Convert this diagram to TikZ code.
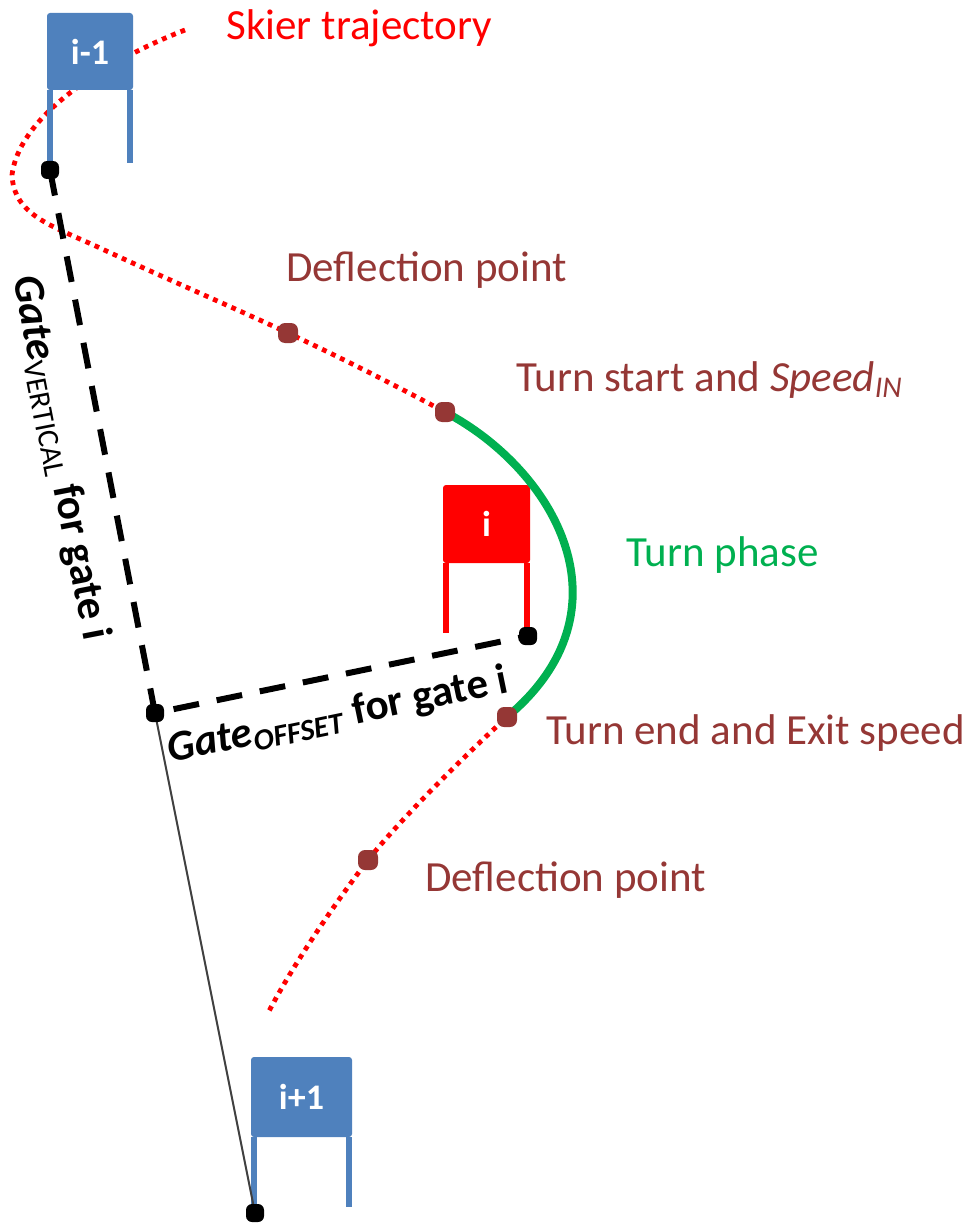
\documentclass[tikz,border=0pt]{standalone}
\usepackage{fontspec}
\setmainfont{Carlito}
\definecolor{gateblue}{HTML}{4F81BD}
\definecolor{gatered}{HTML}{FF0000}
\definecolor{dotbrown}{HTML}{953735}
\definecolor{turngreen}{HTML}{00B050}
\begin{document}
\begin{tikzpicture}[x=0.5pt,y=-0.5pt,
  lbl/.style={font=\fontsize{21.5}{26}\selectfont, inner sep=0, anchor=west},
  gatelbl/.style={font=\fontsize{21.5}{26}\selectfont\bfseries, inner sep=0},
  flag/.style={rectangle, rounded corners=1.5pt, inner sep=0, text=white,
    font=\fontsize{18}{22}\selectfont\bfseries},
  pole/.style={line width=3pt},
  bdot/.style={rectangle, rounded corners=3pt, fill=black, minimum size=9pt, inner sep=0},
  pdot/.style={rectangle, rounded corners=3.5pt, fill=dotbrown, minimum size=10pt, inner sep=0},
  traj/.style={draw=red, line width=2.4pt, dash pattern=on 2.4pt off 2.6pt},
  turn/.style={draw=turngreen, line width=4pt},
  gatedash/.style={line width=3pt, dash pattern=on 13pt off 9pt},
  guide/.style={draw=black!75, line width=1pt}]
\useasboundingbox (0,0) rectangle (973,1225);

% key points
\coordinate (pv) at (50,170);
\coordinate (corner) at (155,713);
\coordinate (pi) at (528,636);
\coordinate (pn) at (255,1213);
\coordinate (start) at (185,30);
\coordinate (d1) at (288,333);
\coordinate (ts) at (445,412);
\coordinate (te) at (507,717);
\coordinate (d2) at (368,860);
\coordinate (finish) at (267,1015);

% skier trajectory
\draw[traj] (start) .. controls (120,55) and (20,110) .. (12,175)
  .. controls (14,215) and (50,225) .. (100,248)
  .. controls (160,276) and (230,306) .. (d1)
  .. controls (350,362) and (400,388) .. (ts)
  .. controls (555,470) and (635,610) .. (te)
  .. controls (460,760) and (400,820) .. (d2)
  .. controls (330,910) and (290,970) .. (finish);

% gate i-1
\node[flag, fill=gateblue, minimum width=43pt, minimum height=38.5pt] (g1) at (90,51.5) {i-1};
\draw[pole, gateblue] ([xshift=1.5pt]g1.south west) -- ++(0,75);
\draw[pole, gateblue] ([xshift=-1.5pt]g1.south east) -- ++(0,73);

% gate i
\node[flag, fill=gatered, minimum width=43.5pt, minimum height=39pt] (gi) at (486.5,524) {i};
\draw[pole, gatered] ([xshift=1.5pt]gi.south west) -- ++(0,70);
\draw[pole, gatered] ([xshift=-1.5pt]gi.south east) -- ++(0,67);

% gate i+1
\node[flag, fill=gateblue, minimum width=50.5pt, minimum height=40pt] (g2) at (301.5,1097) {i+1};
\draw[pole, gateblue] ([xshift=1.5pt]g2.south west) -- ++(0,73);
\draw[pole, gateblue] ([xshift=-1.5pt]g2.south east) -- ++(0,70);

% gate distances
\draw[gatedash] (pv) -- (corner) -- (pi);
\draw[guide] (corner) -- (pn);

% turn phase
\draw[turn] (ts) .. controls (555,470) and (635,610) .. (te);

% markers
\node[bdot] (mv) at (pv) {};
\node[bdot] (mc) at (corner) {};
\node[bdot] (mi) at (pi) {};
\node[bdot] (mn) at (pn) {};
\node[pdot] (md1) at (d1) {};
\node[pdot] (mts) at (ts) {};
\node[pdot] (mte) at (te) {};
\node[pdot] (md2) at (d2) {};

% labels
\node[lbl, text=red] (lskier) at (226,28) {Skier trajectory};
\node[lbl, text=dotbrown] (ldef1) at (286,270) {Deflection point};
\node[lbl, text=dotbrown] (lstart) at (516,380) {Turn start and \textit{Speed}\textsubscript{\textit{IN}}};
\node[lbl, text=turngreen] (lphase) at (626,555) {Turn phase};
\node[lbl, text=dotbrown] (lend) at (546,733) {Turn end and Exit speed};
\node[lbl, text=dotbrown] (ldef2) at (425,880) {Deflection point};

\node[gatelbl, rotate=-79] (lvert) at (60,458)
  {\textit{Gate}\textsubscript{\mdseries VERTICAL} for gate i};
\node[gatelbl, rotate=11.7] (loff) at (338,716)
  {\textit{Gate}\textsubscript{\textit{OFFSET}} for gate i};
\end{tikzpicture}
\end{document}
